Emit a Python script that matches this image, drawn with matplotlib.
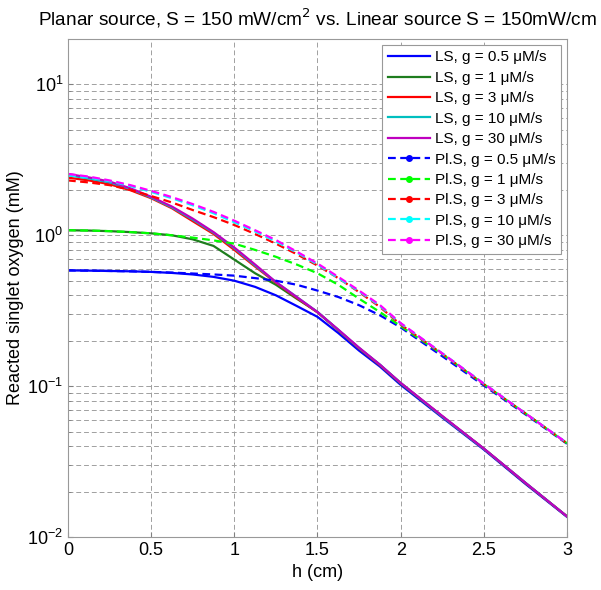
import matplotlib
matplotlib.use('Agg')
import matplotlib.pyplot as plt
from matplotlib.lines import Line2D

plt.rcParams['font.family'] = ['Liberation Sans', 'DejaVu Sans']

# 位置 h (cm)
h = [0, 0.125, 0.25, 0.375, 0.5, 0.625, 0.75, 0.875, 1.0, 1.125, 1.25, 1.375, 1.5,
     1.625, 1.75, 1.875, 2.0, 2.25, 2.5, 2.75, 3.0]

# 线光源 (LS)
ls_05 = [0.585, 0.583, 0.58, 0.577, 0.572, 0.563, 0.55, 0.53, 0.50, 0.455, 0.40, 0.34, 0.288,
         0.225, 0.172, 0.135, 0.102, 0.062, 0.038, 0.0225, 0.0136]
ls_1 = [1.08, 1.075, 1.065, 1.05, 1.03, 1.0, 0.94, 0.85, 0.69, 0.56, 0.47, 0.38, 0.31,
        0.235, 0.178, 0.138, 0.104, 0.063, 0.0385, 0.0228, 0.0137]
ls_3 = [2.41, 2.31, 2.18, 1.99, 1.76, 1.51, 1.24, 1.02, 0.80, 0.62, 0.485, 0.385, 0.308,
        0.235, 0.178, 0.138, 0.105, 0.063, 0.0385, 0.0228, 0.0137]
ls_10 = [2.5, 2.38, 2.24, 2.03, 1.78, 1.53, 1.27, 1.04, 0.82, 0.63, 0.49, 0.39, 0.31,
         0.236, 0.179, 0.139, 0.105, 0.063, 0.0385, 0.0229, 0.0137]
ls_30 = [2.55, 2.42, 2.27, 2.05, 1.80, 1.55, 1.29, 1.05, 0.83, 0.64, 0.49, 0.39, 0.31,
         0.237, 0.18, 0.139, 0.105, 0.0635, 0.0386, 0.0229, 0.0137]

# 面光源 (Pl.S)
pl_05 = [0.585, 0.583, 0.58, 0.577, 0.572, 0.566, 0.558, 0.55, 0.54, 0.52, 0.50, 0.47, 0.43,
         0.39, 0.344, 0.295, 0.245, 0.158, 0.101, 0.065, 0.0415]
pl_1 = [1.08, 1.075, 1.065, 1.05, 1.03, 1.0, 0.965, 0.925, 0.88, 0.80, 0.72, 0.64, 0.56,
        0.47, 0.38, 0.31, 0.25, 0.163, 0.103, 0.066, 0.0418]
pl_3 = [2.31, 2.24, 2.15, 2.0, 1.82, 1.65, 1.47, 1.32, 1.17, 1.02, 0.88, 0.75, 0.63,
        0.52, 0.42, 0.335, 0.256, 0.164, 0.103, 0.066, 0.0418]
pl_10 = [2.5, 2.41, 2.28, 2.12, 1.94, 1.76, 1.58, 1.40, 1.22, 1.06, 0.91, 0.77, 0.64,
         0.52, 0.425, 0.34, 0.26, 0.165, 0.104, 0.066, 0.042]
pl_30 = [2.55, 2.45, 2.31, 2.15, 1.97, 1.79, 1.61, 1.43, 1.25, 1.08, 0.93, 0.78, 0.65,
         0.53, 0.43, 0.345, 0.262, 0.165, 0.104, 0.066, 0.042]

g_labels = ['0.5', '1', '3', '10', '30']
ls_colors = ['#0000ff', '#1e7d1e', '#ff0000', '#00bfbf', '#bf00bf']
pl_colors = ['#0000ff', '#00ff00', '#ff0000', '#00ffff', '#ff00ff']

fig = plt.figure(figsize=(6.01, 5.90), dpi=100)
ax = fig.add_axes([0.1131, 0.0898, 0.8303, 0.8441])

handles = []
for ys, c, g in zip([ls_05, ls_1, ls_3, ls_10, ls_30], ls_colors, g_labels):
    ax.plot(h, ys, '-', color=c, lw=1.6)
    handles.append(Line2D([], [], color=c, lw=1.6, ls='-', label='LS, g = %s μM/s' % g))
for ys, c, g in zip([pl_05, pl_1, pl_3, pl_10, pl_30], pl_colors, g_labels):
    ax.plot(h, ys, '--', color=c, lw=1.6, dashes=(3.5, 2))
    handles.append(Line2D([], [], color=c, lw=1.6, ls='--', dashes=(3.5, 2), marker='.',
                          markersize=8, label='Pl.S, g = %s μM/s' % g))

ax.set_yscale('log')
ax.set_xlim(0, 3)
ax.set_ylim(0.01, 20)
ax.set_xticks([0, 0.5, 1, 1.5, 2, 2.5, 3])
ax.set_xticklabels(['0', '0.5', '1', '1.5', '2', '2.5', '3'])
ax.grid(True, which='major', axis='both', color='#a0a0a0', ls=(0, (5, 3)), lw=0.7)
ax.grid(True, which='minor', axis='y', color='#a0a0a0', ls=(0, (5, 3)), lw=0.7)
ax.tick_params(which='both', direction='in', labelsize=13, color='#808080')
ax.tick_params(which='minor', length=2)
for s in ax.spines.values():
    s.set_color('#999999')

ax.set_xlabel('h (cm)', fontsize=13, labelpad=4)
ax.set_ylabel('Reacted singlet oxygen (mM)', fontsize=13, labelpad=2)
ax.set_title('Planar source, S = 150 mW/cm$^2$ vs. Linear source S = 150mW/cm', fontsize=13.7, pad=10)

leg = ax.legend(handles=handles, loc='upper right', fontsize=11, numpoints=1,
                handlelength=2.8, handletextpad=0.3, labelspacing=0.42,
                fancybox=False, framealpha=1, borderaxespad=0.4, borderpad=0.35)
leg.get_frame().set_edgecolor('#999999')
leg.get_frame().set_linewidth(0.8)

plt.savefig('out.png', dpi=100)
